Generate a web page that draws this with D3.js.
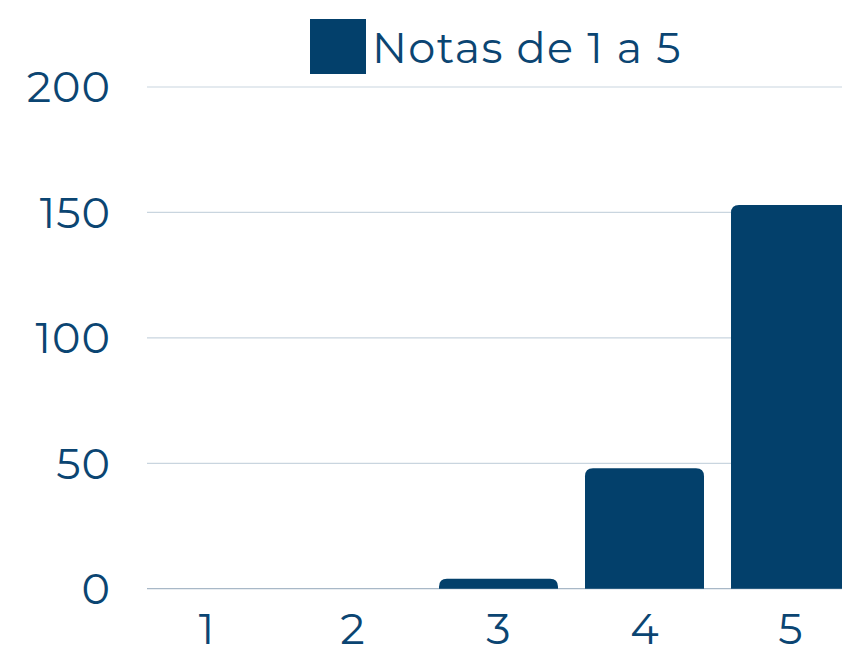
<!DOCTYPE html>
<html>
<head>
<meta charset="utf-8">
<script src="https://cdn.jsdelivr.net/npm/d3@7"></script>
<style>
  html, body { margin: 0; padding: 0; background: #fff; }
  svg { display: block; }
  text { font-family: Montserrat, Inter, "Open Sans", sans-serif; fill: #0b4572; }
</style>
</head>
<body>
<svg width="842" height="646"></svg>
<script>
// data
var categories = ["1", "2", "3", "4", "5"];
var notas = [0, 0, 4, 48, 153];
var yTicks = [0, 50, 100, 150, 200];
var seriesName = "Notas de 1 a 5";

var barColor = "#03406b";

var svg = d3.select("svg"),
	width = +svg.attr("width"),
	height = +svg.attr("height");

var x = d3.scaleBand()
	.domain(categories)
	.range([147, 850])
	.paddingInner(0.185)
	.paddingOuter(0);

var y = d3.scaleLinear()
	.domain([0, 200])
	.range([588.7, 87]);

// gridlines
svg.append("g")
	.selectAll("line")
	.data(yTicks)
	.enter().append("line")
	.attr("x1", 147)
	.attr("x2", width)
	.attr("y1", function(d) { return y(d); })
	.attr("y2", function(d) { return y(d); })
	.attr("stroke", function(d) { return d == 0 ? "#a8b8c7" : "#c9d5df"; })
	.attr("stroke-width", 1.2);

// y labels
svg.append("g")
	.selectAll("text")
	.data(yTicks)
	.enter().append("text")
	.attr("x", 111)
	.attr("y", function(d) { return y(d); })
	.attr("dy", "0.36em")
	.attr("text-anchor", "end")
	.attr("font-size", 43)
	.attr("letter-spacing", 1)
	.text(function(d) { return d; });

// x labels
svg.append("g")
	.selectAll("text")
	.data(categories)
	.enter().append("text")
	.attr("x", function(d) { return x(d) + x.bandwidth() / 2; })
	.attr("y", 644)
	.attr("text-anchor", "middle")
	.attr("font-size", 43)
	.text(function(d) { return d; });

// bars with rounded top corners
function barPath(x0, y0, w, h, r) {
	r = Math.min(r, h, w / 2);
	if (h <= 0) return "";
	return "M" + x0 + "," + (y0 + h)
		+ "V" + (y0 + r)
		+ "Q" + x0 + "," + y0 + " " + (x0 + r) + "," + y0
		+ "H" + (x0 + w - r)
		+ "Q" + (x0 + w) + "," + y0 + " " + (x0 + w) + "," + (y0 + r)
		+ "V" + (y0 + h) + "Z";
}

svg.append("g")
	.selectAll("path")
	.data(notas)
	.enter().append("path")
	.attr("fill", barColor)
	.attr("d", function(d, i) {
		var x0 = x(categories[i]);
		return barPath(x0, y(d), x.bandwidth(), y(0) - y(d), 8);
	});

// legend
var legend = svg.append("g");
legend.append("rect")
	.attr("x", 310)
	.attr("y", 19)
	.attr("width", 56)
	.attr("height", 55)
	.attr("fill", barColor);
legend.append("text")
	.attr("x", 372)
	.attr("y", 63)
	.attr("font-size", 43)
	.attr("letter-spacing", 1.4)
	.text(seriesName);
</script>
</body>
</html>
